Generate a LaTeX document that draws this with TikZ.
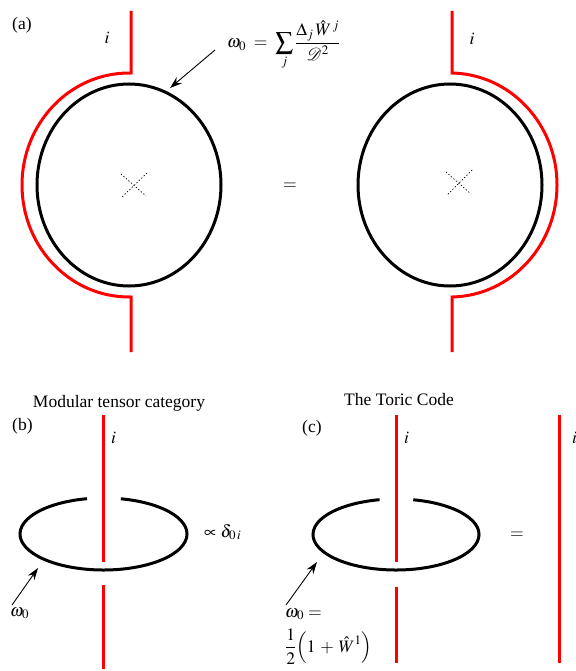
\documentclass[tikz,border=0pt]{standalone}
\usepackage{mathptmx}
\usepackage{fontspec}
\setmainfont{Liberation Serif}
\usetikzlibrary{arrows.meta,calc}
\tikzset{
  lab/.style={inner sep=0pt,font=\fontsize{17.5}{21}\selectfont},
  redline/.style={draw=red,line width=3pt},
  loop/.style={draw=black,line width=3pt},
  ptr/.style={draw=black,line width=0.9pt,-{Stealth[length=12pt,width=8pt]}},
  cross/.style={draw=black,line width=0.7pt,dash pattern=on 1.3pt off 2pt}
}
\begin{document}
\begin{tikzpicture}[x=1pt,y=-1pt]
\useasboundingbox (0,0) rectangle (575,671);
% ---------- panel (a) ----------
\node[lab,anchor=base west] (la) at (12,30) {(a)};
\coordinate (cL) at (129,185);
\coordinate (cR) at (450,185);
\draw[loop] (cL) ellipse [x radius=92, y radius=101];
\draw[loop] (cR) ellipse [x radius=92, y radius=101];
% red strands
\draw[redline] (131,11) -- (131,73) -- ($(cL)+(-93:107 and 112)$)
   arc[start angle=-93,end angle=-267,x radius=107,y radius=112]
   -- (131,297) -- (131,352);
\draw[redline] (452,11) -- (452,73) -- ($(cR)+(-87:107 and 112)$)
   arc[start angle=-87,end angle=87,x radius=107,y radius=112]
   -- (452,297) -- (452,352);
% dashed crosses
\coordinate (xL) at (134,185);
\coordinate (xR) at (459,183);
\draw[cross] ($(xL)+(-13,-11)$) -- ($(xL)+(12,11)$);
\draw[cross] ($(xL)+(13,-12)$) -- ($(xL)+(-12,12)$);
\draw[cross] ($(xR)+(-13,-11)$) -- ($(xR)+(12,11)$);
\draw[cross] ($(xR)+(13,-13)$) -- ($(xR)+(-12,12)$);
\node[lab,anchor=base] (iaL) at (107,44) {$i$};
\node[lab,anchor=base] (iaR) at (472,45) {$i$};
\node[lab] (eqa) at (290,186) {$=$};
\node[lab,anchor=base west] (om) at (227,48)
  {$\displaystyle \omega_0\;=\;\sum_j\frac{\Delta_j\,\hat{W}^{\,j}}{\mathcal{D}^2}$};
\coordinate (aTail) at (215,50);
\coordinate (aTip) at (170,88);
\draw[ptr] (aTail) -- (aTip);
% ---------- panel (b) ----------
\node[lab,anchor=base] (tb) at (119,407) {Modular tensor category};
\node[lab,anchor=base west] (lb) at (12,430) {(b)};
\coordinate (cb) at (103.5,534);
\draw[redline] (103,415) -- (103,562);
\draw[redline] (103,585) -- (103,669);
\draw[loop] ($(cb)+(-78:83.5 and 36)$)
   arc[start angle=-78,end angle=258.6,x radius=83.5,y radius=36];
\node[lab,anchor=base west] (ib) at (111,443) {$i$};
\node[lab,anchor=base west] (prop) at (204,537) {$\propto\delta_{0\,i}$};
\node[lab,anchor=base west] (omb) at (10,616) {$\omega_0$};
\coordinate (bTail) at (12,605);
\coordinate (bTip) at (38,568);
\draw[ptr] (bTail) -- (bTip);
% ---------- panel (c) ----------
\node[lab,anchor=base] (tc) at (399,405) {The Toric Code};
\node[lab,anchor=base west] (lc) at (302,432) {(c)};
\coordinate (cc) at (396,534.5);
\draw[redline] (396,415) -- (396,562);
\draw[redline] (396,587) -- (396,663);
\draw[loop] ($(cc)+(-78:83 and 35.5)$)
   arc[start angle=-78,end angle=258.6,x radius=83,y radius=35.5];
\node[lab,anchor=base west] (ic) at (404,443) {$i$};
\node[lab] (eqc) at (517,535) {$=$};
\draw[redline] (559,415) -- (559,663);
\node[lab,anchor=base west] (ir) at (572,443) {$i$};
\node[lab,anchor=base west] (omc) at (285,617) {$\omega_0=$};
\node[lab,anchor=base west] (half) at (285,652)
  {$\displaystyle \frac{1}{2}\Bigl(1\:+\:\hat{W}^1\Bigr)$};
\coordinate (cTail) at (286,605);
\coordinate (cTip) at (317,562);
\draw[ptr] (cTail) -- (cTip);
\end{tikzpicture}
\end{document}
